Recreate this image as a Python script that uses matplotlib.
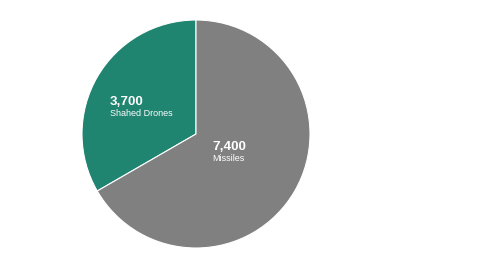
import matplotlib.pyplot as plt

labels = ["Shahed Drones", "Missiles"]
values = [3700, 7400]
colors = ["#1f8470", "#808080"]

plt.rcParams['font.family'] = ['Liberation Sans', 'DejaVu Sans']

fig = plt.figure(figsize=(4.8, 2.7), dpi=100)
# pie centred at ~(196, 134) px, radius ~114 px
ax = fig.add_axes([82 / 480, 22 / 270, 228 / 480, 228 / 270])
ax.pie(values, colors=colors, startangle=90, counterclock=True,
       wedgeprops=dict(edgecolor='white', linewidth=0.8))
ax.set_xlim(-1, 1)
ax.set_ylim(-1, 1)

# value + name labels inside wedges
pos = [(-0.754, 0.285), (0.14, -0.11)]
for (x, y), lab, v in zip(pos, labels, values):
    ax.text(x, y, f"{v:,}", color='white', fontsize=9.7, fontweight='bold',
            ha='left', va='center')
    ax.text(x, y - 0.105, lab, color='white', fontsize=6.5,
            ha='left', va='center')

plt.savefig("out.png", dpi=100)
